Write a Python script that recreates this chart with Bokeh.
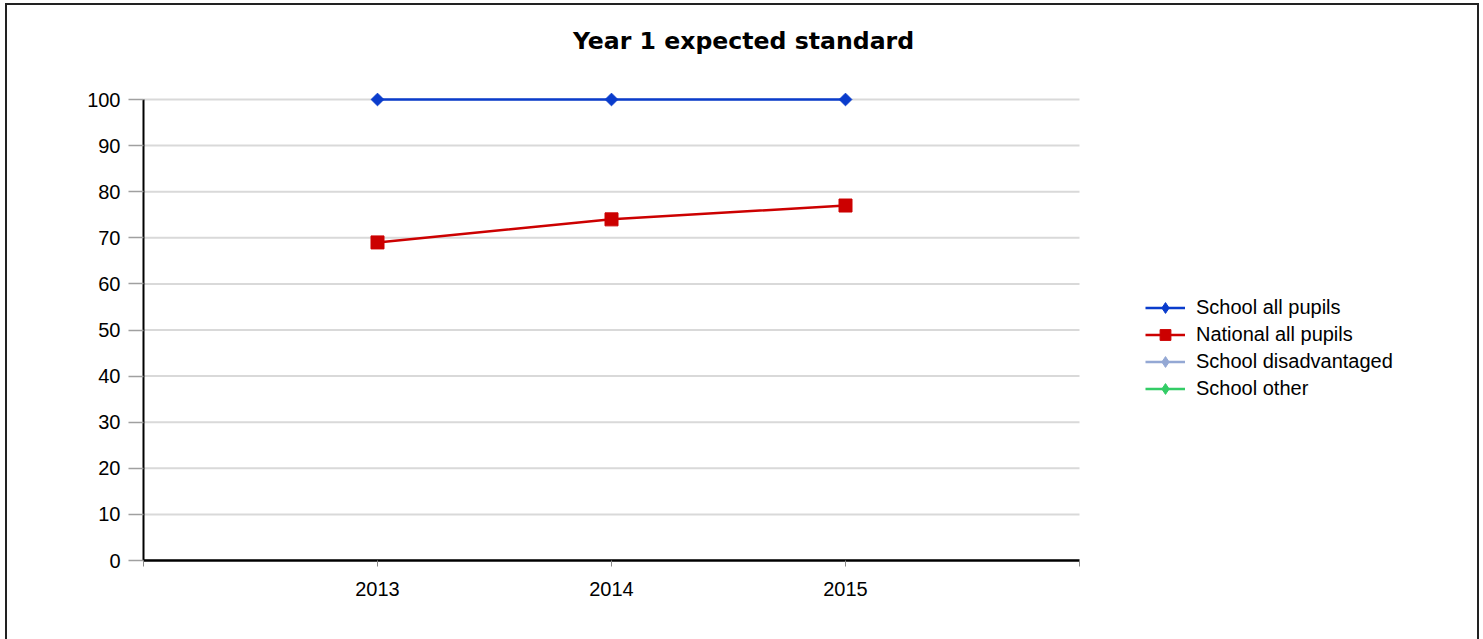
import math
import numpy as np
from bokeh.plotting import figure
from bokeh.models import Range1d, FixedTicker, Legend, LegendItem, Label
from bokeh.embed import file_html
from bokeh.resources import INLINE

# ---- data ----
years = [2013, 2014, 2015]
school_all = [100, 100, 100]
national_all = [69, 74, 77]
school_disadv = [None, None, None]   # no values shown for this series
school_other = [None, None, None]    # no values shown for this series
x_ticks = [2012, 2013, 2014, 2015, 2016]
y_ticks = [0, 10, 20, 30, 40, 50, 60, 70, 80, 90, 100]
title_text = "Year 1 expected standard"
series_labels = ["School all pupils", "National all pupils", "School disadvantaged", "School other"]

BLUE = "#0a3ccc"
RED = "#cc0000"
LIGHTBLUE = "#94a8d4"
GREEN = "#33cc66"

W, H = 1483, 639
LEFT, BOTTOM = 143, 79
PX_PER_YEAR = 234.0
PX_PER_UNIT = 4.61
frame_w = W - LEFT
frame_h = H - BOTTOM


def as_float(vals):
    return np.array([np.nan if v is None else v for v in vals], dtype=float)


p = figure(width=W, height=H, output_backend="svg", toolbar_location=None,
           x_range=Range1d(x_ticks[0], x_ticks[0] + frame_w / PX_PER_YEAR),
           y_range=Range1d(y_ticks[0], y_ticks[0] + frame_h / PX_PER_UNIT),
           min_border_left=LEFT, min_border_right=0, min_border_top=0, min_border_bottom=BOTTOM)
p.outline_line_color = None
p.background_fill_alpha = 0
p.border_fill_alpha = 0
p.styles = {
    "background-color": "white",
    "box-shadow": ("inset 5px 0 0 0 #fff, inset -4px 0 0 0 #fff, inset 0 3px 0 0 #fff, "
                   "inset 7px 0 0 0 #222, inset -6px 0 0 0 #222, inset 0 5px 0 0 #222"),
}

# axes
xa = p.xaxis[0]
xa.ticker = FixedTicker(ticks=x_ticks)
xa.bounds = (x_ticks[0], x_ticks[-1])
xa.major_label_overrides = {x_ticks[0]: "", x_ticks[-1]: ""}
xa.minor_tick_line_color = None
xa.axis_line_color = "black"
xa.axis_line_width = 2.5
xa.major_tick_line_color = "#888888"
xa.major_tick_line_width = 1
xa.major_tick_out = 6
xa.major_tick_in = 0
xa.major_label_text_font = "Liberation Sans"
xa.major_label_text_font_size = "20px"
xa.major_label_text_color = "black"
xa.major_label_standoff = 15

ya = p.yaxis[0]
ya.ticker = FixedTicker(ticks=y_ticks)
ya.bounds = (y_ticks[0], y_ticks[-1])
ya.minor_tick_line_color = None
ya.axis_line_color = "black"
ya.axis_line_width = 2
ya.major_tick_line_color = "#a0a0a0"
ya.major_tick_line_width = 1.5
ya.major_tick_out = 15
ya.major_tick_in = 0
ya.major_label_text_font = "Liberation Sans"
ya.major_label_text_font_size = "20px"
ya.major_label_text_color = "black"
ya.major_label_standoff = 8

p.xgrid.visible = False
p.ygrid.visible = False
# horizontal gridlines limited to the axis extent
p.segment(x0=[x_ticks[0]] * len(y_ticks), x1=[x_ticks[-1]] * len(y_ticks),
          y0=y_ticks, y1=y_ticks, line_color="#d9d9d9", line_width=2, level="underlay")

series = [
    (school_all, BLUE, "diamond"),
    (national_all, RED, "square"),
    (school_disadv, LIGHTBLUE, "diamond"),
    (school_other, GREEN, "diamond"),
]

items = []
for label, (vals, color, mk) in zip(series_labels, series):
    yv = as_float(vals)
    rl = p.line(years, yv, line_color=color, line_width=2.5)
    if mk == "diamond":
        p.scatter(years, yv, marker="square", angle=math.pi / 4, size=9,
                  fill_color=color, line_color=color)
    else:
        p.scatter(years, yv, marker="square", size=13, fill_color=color, line_color=color)
    # legend swatch marker (the legend does not rotate markers)
    rk = p.scatter(years, as_float([None] * len(years)), marker=mk, size=10,
                   fill_color=color, line_color=color)
    items.append(LegendItem(label=label, renderers=[rl, rk]))

legend = Legend(items=items, location=(1145 - LEFT, frame_h - 402), orientation="vertical")
legend.glyph_width = 40
legend.glyph_height = 27
legend.label_height = 20
legend.spacing = 0
legend.padding = 0
legend.margin = 0
legend.border_line_color = None
legend.background_fill_alpha = 0
legend.label_text_font = "Liberation Sans"
legend.label_text_font_size = "20px"
legend.label_text_color = "black"
legend.label_standoff = 11
p.add_layout(legend)

title = Label(x=743 - LEFT, y=frame_h - 40, x_units="screen", y_units="screen", text=title_text,
              text_align="center", text_baseline="alphabetic",
              text_font="DejaVu Sans", text_font_style="bold", text_font_size="23.6px",
              text_color="black")
p.add_layout(title)

open("out.html", "w").write(file_html(p, INLINE))
